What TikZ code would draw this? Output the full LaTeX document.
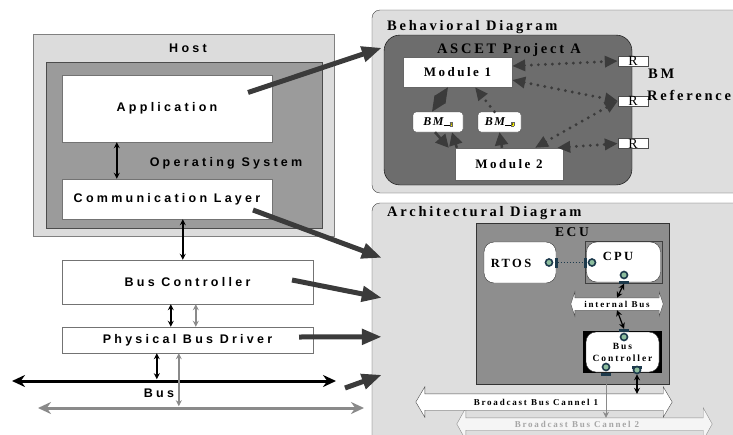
\documentclass[tikz,border=0pt]{standalone}
\usepackage{fontspec}
\setmainfont{Liberation Serif}
\newfontfamily\hostfont[LetterSpace=26]{Liberation Sans}
\newfontfamily\diagfont[LetterSpace=19]{Liberation Serif}
\newfontfamily\ecufont[LetterSpace=20]{Liberation Serif}
\usetikzlibrary{arrows.meta}

\definecolor{hostgray}{HTML}{DCDCDC}
\definecolor{osgray}{HTML}{9B9B9B}
\definecolor{panelgray}{HTML}{DEDEDE}
\definecolor{ascetgray}{HTML}{6D6D6D}
\definecolor{ecugray}{HTML}{8E8E8E}
\definecolor{arrowgray}{HTML}{3B3B3B}
\definecolor{busgray}{HTML}{8A8A8A}
\definecolor{portblue}{HTML}{1D3A4C}
\definecolor{portgreen}{HTML}{8DBE9E}

\newcommand\bmlabel{{\bfseries\itshape B\kern1.5pt M}\rule{6pt}{0.5pt}{\setlength\fboxsep{0.6pt}\fcolorbox{black!60}{yellow}{\fontsize{4}{4}\selectfont\bfseries i}}}
\newcommand\busoutline[4][]{%
  \draw[#1] (#2.north west) -- (#2.north east) -- ([yshift=#3pt]#2.north east)
    -- ([xshift=#4pt]#2.east) -- ([yshift=-#3pt]#2.south east) -- (#2.south east)
    -- (#2.south west) -- ([yshift=-#3pt]#2.south west) -- ([xshift=-#4pt]#2.west)
    -- ([yshift=#3pt]#2.north west) -- cycle;}

\begin{document}
\begin{tikzpicture}[x=1pt,y=-1pt,
  hostlbl/.style={inner sep=0pt,font=\hostfont\bfseries\fontsize{12.5}{14}\selectfont},
  hostbox/.style={draw=black!55,fill=white,inner sep=0pt,hostlbl},
  panel/.style={draw=black!75,fill=panelgray,rounded corners=8pt,inner sep=0pt},
  paneltitle/.style={anchor=west,inner sep=0pt,font=\diagfont\bfseries\fontsize{14.5}{16}\selectfont},
  module/.style={draw=black!60,fill=white,inner sep=0pt,font=\diagfont\bfseries\fontsize{13}{14}\selectfont},
  bmbox/.style={draw=black!70,fill=white,rounded corners=3pt,inner sep=0pt,minimum height=20pt,font=\fontsize{12}{12}\selectfont},
  refbox/.style={draw=black!70,fill=white,inner sep=0pt,minimum width=30pt,minimum height=10pt},
  unit/.style={draw=black!80,fill=white,rounded corners=10pt,inner sep=0pt},
  unitlbl/.style={inner sep=0pt,font=\diagfont\bfseries\fontsize{12.5}{14}\selectfont},
  smalllbl/.style={inner sep=0pt,font=\ecufont\bfseries\fontsize{9}{10}\selectfont},
  port/.style={circle,draw=portblue,fill=portgreen,line width=1.6pt,minimum size=7pt,inner sep=0pt},
  vbar/.style={fill=portblue,inner sep=0pt,minimum width=3pt,minimum height=10pt},
  hbar/.style={fill=portblue,inner sep=0pt,minimum width=10pt,minimum height=3pt},
  bigarrow/.style={draw=arrowgray,line width=5pt,-{Triangle[length=20pt,width=15pt]}},
  biarrow/.style={line width=1.5pt,{Stealth[length=6pt,width=6pt]}-{Stealth[length=6pt,width=6pt]}},
  busline/.style={line width=3pt,{Stealth[length=13pt,width=12pt]}-{Stealth[length=13pt,width=12pt]}},
  dotline/.style={draw=arrowgray,line width=3.2pt,line cap=round,dash pattern=on 0pt off 7pt},
  refline/.style={dotline,{Triangle[length=13pt,width=11pt]}-{Triangle[length=13pt,width=11pt]}},
  bmlink/.style={draw=arrowgray,line width=2.5pt,-{Triangle[length=13pt,width=13pt]}}]

  \useasboundingbox (0,0) rectangle (733,434);
  \clip (0,0) rectangle (733,434);

  \node[draw=black!50,fill=hostgray,minimum width=301pt,minimum height=202pt,inner sep=0pt] (host) at (183.5,135) {};
  \node[draw=black!70,fill=osgray,minimum width=276pt,minimum height=166pt,inner sep=0pt] (os) at (184,145) {};
  \node[hostlbl] (hostname) at (188,48) {Host};
  \node[hostbox,minimum width=210pt,minimum height=67pt] (app) at (167,108.5) {Application};
  \node[hostlbl] (osname) at (226,163) {Operating System};
  \node[hostbox,minimum width=210pt,minimum height=40pt] (comm) at (167,199) {Communication Layer};
  \node[hostbox,minimum width=251pt,minimum height=44pt] (busctrl) at (187.5,282) {Bus Controller};
  \node[hostbox,minimum width=251pt,minimum height=26pt] (driver) at (187.5,340) {Physical Bus Driver};

  \draw[biarrow] ([xshift=55pt]app.south west) -- ([xshift=55pt]comm.north west);
  \draw[biarrow] ([xshift=121pt]comm.south west) -- ([xshift=121pt]busctrl.north west);
  \draw[biarrow] ([xshift=109pt]busctrl.south west) -- ([xshift=109pt]driver.north west);
  \draw[biarrow,busgray] ([xshift=134pt]busctrl.south west) -- ([xshift=134pt]driver.north west);

  \coordinate (busL) at (12,381);
  \coordinate (busR) at (336,381);
  \coordinate (bus2L) at (38,408);
  \coordinate (bus2R) at (364,408);
  \draw[busline] (busL) -- (busR);
  \draw[busline,busgray] (bus2L) -- (bus2R);
  \node[hostlbl] (busname) at (159,393) {Bus};
  \draw[biarrow] ([xshift=95pt]driver.south west) -- ++(0,26);
  \draw[biarrow,busgray] ([xshift=117pt]driver.south west) -- ++(0,53);

  \node[panel,minimum width=380pt,minimum height=183pt] (behav) at (562,101.5) {};
  \node[paneltitle] (behavtitle) at (387,27) {Behavioral Diagram};
  \node[draw=black,fill=ascetgray,rounded corners=16pt,minimum width=248pt,minimum height=150pt,inner sep=0pt] (ascet) at (508,110) {};
  \node[inner sep=0pt,font=\diagfont\bfseries\fontsize{14.5}{16}\selectfont] (ascettitle) at (509,50) {ASCET Project A};
  \node[module,minimum width=109pt,minimum height=30pt] (mod1) at (457.5,72) {Module 1};
  \node[module,minimum width=108pt,minimum height=32pt] (mod2) at (509,164) {Module 2};
  \node[bmbox,minimum width=50pt] (bm1) at (438,122) {\bmlabel};
  \node[bmbox,minimum width=43pt] (bm2) at (499.5,122) {\bmlabel};
  \foreach \n/\y in {1/61,2/101,3/143.5}
    \node[refbox,label={[inner sep=0pt,font=\fontsize{14}{14}\selectfont]center:R}] (ref\n) at (633,\y) {};
  \node[paneltitle] (bmname) at (648,74) {BM};
  \node[paneltitle] (refname) at (647,95) {Reference};

  \draw[refline] ([yshift=6pt]mod1.east) -- (ref1.west);
  \draw[refline] ([yshift=-8pt]mod1.east) -- (ref2.west);
  \draw[refline] ([xshift=26pt]mod2.north) -- (ref2.west);
  \draw[refline] ([xshift=-6pt]mod2.north east) -- (ref3.west);
  \draw[draw=arrowgray,line width=2pt,{Triangle[length=15pt,width=13pt]}-{Triangle[length=15pt,width=13pt]}] ([xshift=-9.5pt]mod1.south) -- ([xshift=-6pt]bm1.north);
  \draw[dotline,-{Triangle[length=13pt,width=11pt]}] ([xshift=-5pt]bm2.north) -- ([xshift=17.5pt]mod1.south);
  \draw[bmlink] ([xshift=-7pt]mod2.north) -- (bm2.south);
  \draw[bmlink] ([xshift=2pt]mod2.north west) -- ([xshift=14pt]bm1.south);
  \draw[bmlink] ([xshift=-3pt]bm1.south) -- ([xshift=-6pt]mod2.north west);

  \node[panel,minimum width=380pt,minimum height=242pt] (arch) at (562,324) {};
  \node[paneltitle] (archtitle) at (387,213) {Architectural Diagram};
  \node[draw=black!80,fill=ecugray,minimum width=193pt,minimum height=161pt,inner sep=0pt] (ecu) at (572.5,303.5) {};
  \node[inner sep=0pt,font=\diagfont\bfseries\fontsize{13.5}{14}\selectfont] (ecuname) at (572,232) {ECU};
  \node[unit,minimum width=72pt,minimum height=41pt] (rtos) at (520,262.5) {};
  \node[unitlbl] (rtosname) at (511,263) {RTOS};
  \node[draw=black!75,fill=black!45,minimum width=77pt,minimum height=42pt,inner sep=0pt] (cpubox) at (623.5,262) {};
  \node[unit,minimum width=74pt,minimum height=40pt] (cpu) at (623.5,262) {};
  \node[unitlbl] (cpuname) at (618,256) {CPU};

  \node[minimum width=84pt,minimum height=12pt,inner sep=0pt] (ibus) at (617,304) {};
  \busoutline[draw=black!70,fill=white]{ibus}{6}{4}
  \node[smalllbl] (ibusname) at (ibus) {internal Bus};

  \node[fill=black,minimum width=79pt,minimum height=42pt,inner sep=0pt] (bcbox) at (622.5,352) {};
  \node[unit,minimum width=73pt,minimum height=40pt,align=center,font=\ecufont\bfseries\fontsize{9.5}{12}\selectfont] (bc) at (622.5,352) {Bus\\Controller};

  \node[vbar] (rtosbar) at (556,262.5) {};
  \node[port] (rtosport) at (549,262.5) {};
  \node[vbar] (cpubar) at (585,262.5) {};
  \node[port] (cpuport) at (592,262.5) {};
  \draw[portblue,line width=1pt,dotted] (rtosbar.east) -- (cpubar.west);
  \node[port] (cpudown) at (624,275) {};
  \node[hbar] (cpudownbar) at (624,282) {};
  \node[hbar] (bcupbar) at (624,330.5) {};
  \node[port] (bcup) at (624,337) {};
  \node[port] (bcleft) at (606,367) {};
  \node[hbar] (bcleftbar) at (606,374) {};
  \node[hbar] (bcrightbar) at (637,367) {};
  \node[port] (bcright) at (637,370) {};

  \node[minimum width=237pt,minimum height=12pt,inner sep=0pt] (bbc2) at (584.5,424) {};
  \busoutline[draw=black!45,fill=black!4]{bbc2}{10}{9}
  \node[smalllbl,black!35] (bbc2name) at (577,424) {Broadcast Bus Cannel 2};
  \node[minimum width=238pt,minimum height=16pt,inner sep=0pt] (bbc1) at (544,402) {};
  \busoutline[draw=black!70,fill=white]{bbc1}{7}{9}
  \node[smalllbl] (bbc1name) at (536,402) {Broadcast Bus Cannel 1};

  \draw[biarrow,line width=1.2pt] (cpudownbar.south) -- (ibus.north);
  \draw[biarrow,line width=1.2pt] (ibus.south) -- (bcupbar.north);
  \draw[biarrow,line width=1.2pt] (bcright.south) -- (bcright |- bbc1.north);
  \draw[busgray,line width=1pt,-{Stealth[length=6pt,width=6pt]}] (bcleftbar.south) -- (bcleft |- bbc2.north);

  \draw[bigarrow] ([shift={(81,-16)}]app.center) -- ([shift={(10,38)}]behav.north west);
  \draw[bigarrow] ([shift={(86,11)}]comm.center) -- ([shift={(10,55)}]arch.north west);
  \draw[bigarrow] ([shift={(104.5,-2)}]busctrl.center) -- ([shift={(10,95)}]arch.north west);
  \draw[bigarrow] ([shift={(111.5,-3)}]driver.center) -- ([shift={(10,134)}]arch.north west);
  \draw[bigarrow] ([shift={(9,7)}]busR) -- ([shift={(10,172)}]arch.north west);
\end{tikzpicture}
\end{document}
